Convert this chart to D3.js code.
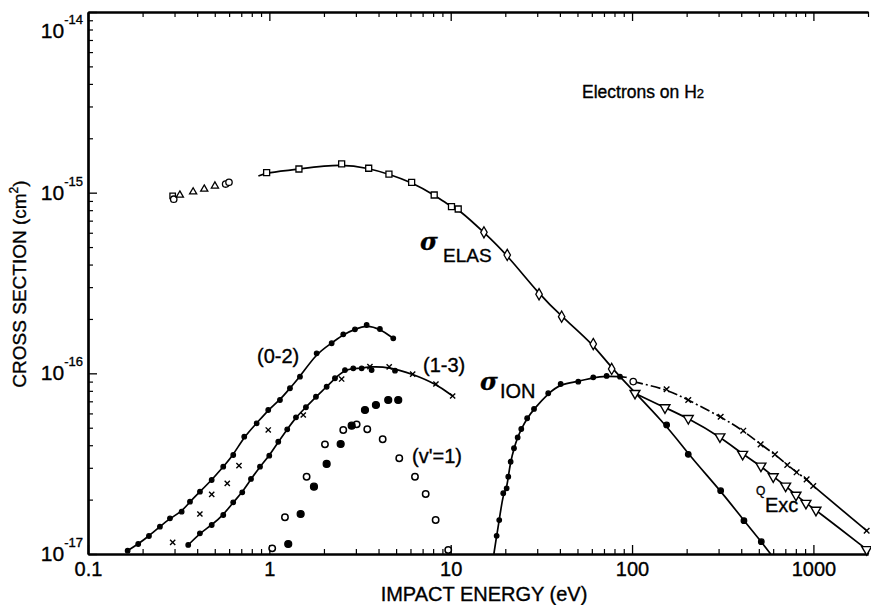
<!DOCTYPE html>
<html><head><meta charset="utf-8">
<script src="https://cdn.jsdelivr.net/npm/d3@7"></script>
<style>
body{margin:0;background:#fff;}
svg{display:block;font-family:"Liberation Sans",Arial,Helvetica,sans-serif;}
svg text{stroke:#000;stroke-width:0.35px;}
</style></head><body>
<svg id="chart" width="871" height="605"></svg>
<script>
// ---------- data (energy in eV, cross section in cm^2) ----------
const xMajorTicks = [0.1, 1, 10, 100, 1000];
const xTickLabels = ["0.1", "1", "10", "100", "1000"];
const yMajorTicks = [1e-14, 1e-15, 1e-16, 1e-17];
const yTickExponents = ["-14", "-15", "-16", "-17"];

// elastic, low energy scattered data
const elasLowSquare = [[0.293, 9.6e-16]];
const elasLowCircle = [[0.297, 9.2e-16], [0.574, 1.116e-15], [0.599, 1.141e-15]];
const elasLowTriangle = [[0.321, 9.7e-16], [0.38, 1.01e-15], [0.4375, 1.047e-15], [0.501, 1.089e-15]];
// elastic on fitted curve
const elasStart = [[0.87, 1.236e-15]];
const elasSquare = [[0.966, 1.29e-15], [1.456, 1.352e-15], [2.504, 1.443e-15], [3.53, 1.365e-15], [4.565, 1.268e-15],
  [6.09, 1.141e-15], [8.11, 9.71e-16], [10.1, 8.36e-16], [11.0, 8.12e-16]];
const elasDiamond = [[15.25, 6.03e-16], [20.5, 4.52e-16], [30.7, 2.74e-16], [40.9, 2.06e-16], [61.1, 1.453e-16], [77.2, 1.057e-16]];
const elasDot = [[155.1, 5.18e-17], [204.1, 3.56e-17], [308, 2.24e-17], [414, 1.53e-17], [516, 1.17e-17]];
const elasEnd = [[581, 1.0e-17]];

// ionization
const ionStart = [[17.3, 1.0e-17]];
const ionDot = [[17.92, 1.26e-17], [18.52, 1.54e-17], [19.49, 2.17e-17], [20.35, 2.31e-17], [20.77, 2.68e-17], [21.4, 3.24e-17],
  [22.33, 3.85e-17], [23.4, 4.42e-17], [24.5, 4.92e-17], [26.4, 5.64e-17], [28.8, 6.35e-17], [34.5, 7.76e-17],
  [40.4, 8.73e-17], [50.5, 8.99e-17], [61.1, 9.5e-17], [72.4, 9.67e-17], [85.8, 9.58e-17]];
const ionEnd = [[93.4, 9.5e-17]];

// high-energy dash-dot curve with crosses
const hiStart = [[101.5, 9.0e-17]];
const hiCross = [[155.1, 8.16e-17], [204.1, 7.12e-17], [308, 5.75e-17], [410.5, 4.815e-17], [511.6, 4.046e-17],
  [613.7, 3.56e-17], [717.6, 3.11e-17], [808, 2.832e-17], [917.6, 2.59e-17], [998, 2.38e-17], [1966, 1.346e-17]];

// Q_Exc (down triangles)
const excTri = [[103.8, 7.755e-17], [151.9, 6.457e-17], [204.2, 5.636e-17], [305.2, 4.459e-17], [407.3, 3.565e-17],
  [513.7, 3.07e-17], [600.6, 2.68e-17], [703, 2.38e-17], [801.6, 2.12e-17], [909.6, 1.91e-17], [1033, 1.75e-17], [1966, 1.06e-17]];

// vibrational (0-2)
const v02Dot = [[0.1654, 1.043e-17], [0.1892, 1.136e-17], [0.2168, 1.258e-17], [0.2492, 1.416e-17], [0.2831, 1.576e-17],
  [0.3284, 1.714e-17], [0.365, 1.948e-17], [0.4143, 2.213e-17], [0.4808, 2.568e-17], [0.5568, 3.043e-17], [0.6323, 3.532e-17],
  [0.727, 4.459e-17], [0.851, 5.29e-17], [0.986, 6.267e-17], [1.144, 7.12e-17], [1.299, 8.27e-17], [1.475, 9.58e-17],
  [1.823, 1.291e-16], [2.206, 1.467e-16], [2.556, 1.644e-16], [2.965, 1.753e-16], [3.44, 1.852e-16], [4.07, 1.76e-16], [4.823, 1.563e-16]];
// scattered crosses near (0-2)
const v02Cross = [[0.293, 1.161e-17], [0.414, 1.665e-17], [0.481, 2.14e-17], [0.586, 2.462e-17], [0.68, 3.083e-17],
  [0.986, 4.858e-17], [1.538, 5.88e-17], [2.504, 9.3e-17]];

// vibrational (1-3)
const v13Dot = [[0.357, 1.122e-17], [0.414, 1.302e-17], [0.481, 1.447e-17], [0.557, 1.644e-17], [0.632, 1.933e-17],
  [0.709, 2.196e-17], [0.792, 2.602e-17], [0.888, 3.043e-17], [0.999, 3.5e-17], [1.12, 4.18e-17], [1.255, 4.9e-17],
  [1.402, 5.71e-17], [1.591, 6.49e-17], [1.807, 7.42e-17], [2.07, 8.43e-17], [2.3, 9.39e-17], [2.612, 1.043e-16],
  [2.902, 1.066e-16], [3.228, 1.066e-16]];
const v13Cross = [[3.586, 1.09e-16], [4.58, 1.085e-16], [6.17, 9.9e-17], [8.29, 8.73e-17], [10.25, 7.49e-17]];
const v13ExtraDot = [[3.664, 1.043e-16], [4.93, 1.034e-16]];

// (v'=1)
const v1Open = [[1.037, 1.075e-17], [1.219, 1.596e-17], [1.605, 2.679e-17], [2.026, 4.046e-17], [2.556, 4.858e-17],
  [3.03, 5.22e-17], [3.467, 4.9e-17], [4.216, 4.313e-17], [5.204, 3.386e-17], [6.353, 2.679e-17], [7.278, 2.148e-17],
  [8.26, 1.542e-17], [9.69, 1.052e-17]];
const v1Filled = [[1.271, 1.136e-17], [1.488, 1.665e-17], [1.762, 2.358e-17], [2.07, 3.15e-17], [2.473, 4.062e-17],
  [2.844, 5.13e-17], [3.367, 6.267e-17], [3.87, 6.68e-17], [4.524, 7.12e-17], [5.137, 7.12e-17]];

// ---------- drawing ----------
const svg = d3.select("#chart");
const x = d3.scaleLog().domain([0.1, 2000]).range([88, 868]);
const y = d3.scaleLog().domain([1e-17, 1e-14]).range([554, 12]);
const X0 = x.range()[0], Y0 = y.range()[0], Y1 = y.range()[1];

function styleAxis(g, sw) {
  g.select(".domain").attr("stroke", "#000").attr("stroke-width", 2.2);
  g.selectAll(".tick line").attr("stroke", "#000").attr("stroke-width", sw);
  g.selectAll("text").attr("fill", "#000").attr("font-size", 20).attr("font-family", "Liberation Sans, Arial, sans-serif");
}
const xMinor = x.ticks().filter(v => !xMajorTicks.some(m => Math.abs(m - v) / m < 1e-6));
const yMinor = y.ticks().filter(v => !yMajorTicks.some(m => Math.abs(m - v) / m < 1e-6));

// bottom
svg.append("g").attr("transform", `translate(0,${Y0})`)
  .call(d3.axisBottom(x).tickValues(xMinor).tickFormat("").tickSize(-5).tickSizeOuter(0)).call(g => styleAxis(g, 1.2));
svg.append("g").attr("transform", `translate(0,${Y0})`)
  .call(d3.axisBottom(x).tickValues(xMajorTicks).tickFormat((d, i) => xTickLabels[i]).tickSize(-9).tickSizeOuter(0).tickPadding(8))
  .call(g => styleAxis(g, 1.3));
// top
svg.append("g").attr("transform", `translate(0,${Y1})`)
  .call(d3.axisTop(x).tickValues(xMinor).tickFormat("").tickSize(-5).tickSizeOuter(0)).call(g => styleAxis(g, 1.2));
svg.append("g").attr("transform", `translate(0,${Y1})`)
  .call(d3.axisTop(x).tickValues(xMajorTicks).tickFormat("").tickSize(-9).tickSizeOuter(0)).call(g => styleAxis(g, 1.3));
// left
svg.append("g").attr("transform", `translate(${X0},0)`)
  .call(d3.axisLeft(y).tickValues(yMinor).tickFormat("").tickSize(-5).tickSizeOuter(0)).call(g => styleAxis(g, 1.2));
svg.append("g").attr("transform", `translate(${X0},0)`)
  .call(d3.axisLeft(y).tickValues(yMajorTicks).tickFormat("").tickSize(-9).tickSizeOuter(0)).call(g => styleAxis(g, 1.3));

// y tick labels 10^n
const yl = svg.append("g").attr("font-size", 21).attr("fill", "#000");
yMajorTicks.forEach((v, i) => {
  const t = yl.append("text").attr("x", X0 - 5).attr("y", Math.max(y(v) + 7, Y1 + 26)).attr("text-anchor", "end");
  t.append("tspan").text("10");
  t.append("tspan").attr("font-size", 13).attr("dy", -14).text(yTickExponents[i]);
});

// axis titles
svg.append("text").attr("x", 484).attr("y", 601).attr("text-anchor", "middle").attr("font-size", 20).text("IMPACT ENERGY (eV)");
const yt = svg.append("text").attr("transform", "translate(26,284) rotate(-90)").attr("text-anchor", "middle").attr("font-size", 19);
yt.append("tspan").text("CROSS SECTION (cm");
yt.append("tspan").attr("font-size", 12).attr("dy", -8).text("2");
yt.append("tspan").attr("dy", 8).text(")");

// curves
const line = d3.line().x(d => x(d[0])).y(d => y(d[1])).curve(d3.curveBasis);
const curves = [
  { data: elasStart.concat(elasSquare, elasDiamond, elasDot, elasEnd), dash: null },
  { data: ionStart.concat(ionDot, ionEnd), dash: null },
  { data: hiStart.concat(hiCross.filter(d => d[0] <= 1000)), dash: "10,3,2,3" },
  { data: hiCross.filter(d => d[0] >= 998), dash: null },
  { data: excTri, dash: null },
  { data: v02Dot, dash: null },
  { data: v13Dot.concat(v13Cross), dash: null }
];
svg.append("g").selectAll("path").data(curves).join("path")
  .attr("d", c => line(c.data)).attr("fill", "none").attr("stroke", "#000").attr("stroke-width", 1.7)
  .attr("stroke-dasharray", c => c.dash);

// markers
const mk = svg.append("g");
function dots(data, r, filled, sw) {
  mk.append("g").selectAll("circle").data(data).join("circle")
    .attr("cx", d => x(d[0])).attr("cy", d => y(d[1])).attr("r", r)
    .attr("fill", filled ? "#000" : "#fff").attr("stroke", "#000").attr("stroke-width", sw || 1.2);
}
function sym(data, type, size, rot, sw) {
  mk.append("g").selectAll("path").data(data).join("path")
    .attr("d", d3.symbol().type(type).size(size))
    .attr("transform", d => `translate(${x(d[0])},${y(d[1])}) rotate(${rot || 0})`)
    .attr("fill", "#fff").attr("stroke", "#000").attr("stroke-width", sw || 1.3);
}
function crosses(data, r) {
  mk.append("g").selectAll("path").data(data).join("path")
    .attr("d", `M${-r},${-r}L${r},${r}M${-r},${r}L${r},${-r}`)
    .attr("transform", d => `translate(${x(d[0])},${y(d[1])})`)
    .attr("fill", "none").attr("stroke", "#000").attr("stroke-width", 1.4);
}
sym(elasLowSquare, d3.symbolSquare, 30);
dots(elasLowCircle, 3.2, false, 1.3);
sym(elasLowTriangle, d3.symbolTriangle, 22);
sym(elasSquare, d3.symbolSquare, 36);
sym(elasDiamond, d3.symbolDiamond, 36);
dots(elasDot, 2.8, true);
dots(ionDot, 2.3, true);
dots(hiStart, 3.2, false, 1.3);
crosses(hiCross, 2.8);
sym(excTri, d3.symbolTriangle, 42, 180, 1.4);
dots(v02Dot, 2.3, true);
crosses(v02Cross, 2.6);
dots(v13Dot, 2.3, true);
dots(v13ExtraDot, 2.3, true);
crosses(v13Cross, 2.6);
dots(v1Open, 3.2, false, 1.5);
dots(v1Filled, 3.5, true);

// curve labels
const lab = svg.append("g").attr("fill", "#000");
lab.append("text").attr("x", 257).attr("y", 363).attr("font-size", 20).text("(0-2)");
lab.append("text").attr("x", 423).attr("y", 372).attr("font-size", 20).text("(1-3)");
lab.append("text").attr("x", 412).attr("y", 463).attr("font-size", 20).text("(v'=1)");
lab.append("text").attr("x", 420).attr("y", 250).attr("font-size", 24).attr("font-style", "italic").attr("font-weight", "bold").attr("font-family", "DejaVu Serif, serif").text("σ");
lab.append("text").attr("x", 443).attr("y", 262).attr("font-size", 19).text("ELAS");
lab.append("text").attr("x", 480).attr("y", 390).attr("font-size", 24).attr("font-style", "italic").attr("font-weight", "bold").attr("font-family", "DejaVu Serif, serif").text("σ");
lab.append("text").attr("x", 500).attr("y", 398).attr("font-size", 20).text("ION");
lab.append("text").attr("x", 756).attr("y", 495).attr("font-size", 12).text("Q");
lab.append("text").attr("x", 765).attr("y", 512).attr("font-size", 20).text("Exc");
const tt = lab.append("text").attr("x", 582).attr("y", 98).attr("font-size", 17.5);
tt.append("tspan").text("Electrons on H");
tt.append("tspan").attr("font-size", 13).text("2");
</script>
</body></html>
